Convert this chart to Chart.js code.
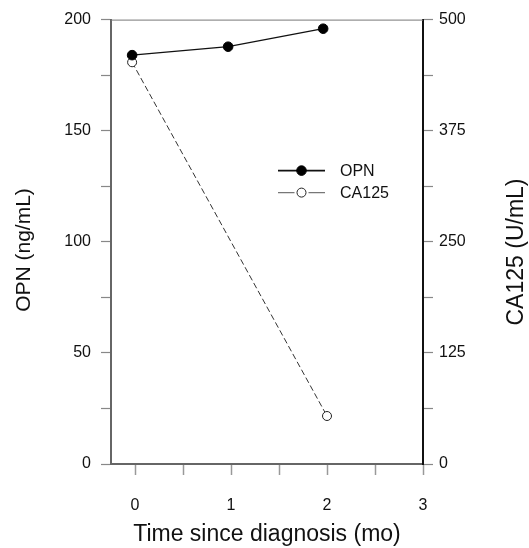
<!DOCTYPE html>
<html>
<head>
<meta charset="utf-8">
<script src="https://cdn.jsdelivr.net/npm/chart.js@4.4.0/dist/chart.umd.min.js"></script>
<style>
    html, body { margin: 0; padding: 0; background: #ffffff; }
    #wrap { width: 529px; height: 548px; }
</style>
</head>
<body>
<div id="wrap"><canvas id="opn_chart" width="529" height="548"></canvas></div>
<script>
// data
var opnMonths = [-0.03, 0.97, 1.96];
var opnValues = [184, 187.8, 195.9];
var ca125Months = [-0.03, 2.0];
var ca125Values = [452, 54];

// axis ticks (minor ticks unlabeled)
var xTicks = [0, 0.5, 1, 1.5, 2, 2.5, 3];
var xLabels = [0, 1, 2, 3];
var opnTicks = [0, 25, 50, 75, 100, 125, 150, 175, 200];
var opnLabels = [0, 50, 100, 150, 200];
var ca125Ticks = [0, 62.5, 125, 187.5, 250, 312.5, 375, 437.5, 500];
var ca125Labels = [0, 125, 250, 375, 500];

var FONT = "'Liberation Sans', Arial, Helvetica, sans-serif";

function toPoints(xs, ys) {
    return xs.map(function(x, i) { return { x: x, y: ys[i] }; });
}

function fixTicks(list) {
    return function(scale) {
        scale.ticks = list.map(function(v) { return { value: v }; });
    };
}

function labelOnly(list) {
    return function(value) {
        return list.indexOf(value) !== -1 ? String(value) : '';
    };
}

// top frame line, y-axis titles, legend
var extrasPlugin = {
    id: 'extras',
    afterDraw: function(chart) {
        var ctx = chart.ctx;
        var area = chart.chartArea;

        ctx.save();
        ctx.strokeStyle = '#777777';
        ctx.lineWidth = 1;
        ctx.beginPath();
        ctx.moveTo(area.left, area.top + 0.5);
        ctx.lineTo(area.right, area.top + 0.5);
        ctx.stroke();

        // axis titles, both read bottom-to-top
        ctx.fillStyle = '#111111';
        ctx.textAlign = 'center';
        ctx.textBaseline = 'alphabetic';
        ctx.save();
        ctx.font = '21px ' + FONT;
        ctx.translate(30, 250);
        ctx.rotate(-Math.PI / 2);
        ctx.fillText('OPN (ng/mL)', 0, 0);
        ctx.restore();

        ctx.save();
        ctx.font = '23px ' + FONT;
        ctx.translate(523, 252);
        ctx.rotate(-Math.PI / 2);
        ctx.fillText('CA125 (U/mL)', 0, 0);
        ctx.restore();

        // legend
        var lx0 = area.left + 167, lx1 = area.left + 214;
        var rows = [area.top + 151, area.top + 173];
        ctx.textBaseline = 'middle';
        chart.data.datasets.forEach(function(ds, i) {
            var y = rows[i];
            var cx = (lx0 + lx1) / 2;
            ctx.strokeStyle = i === 0 ? '#111111' : '#777777';
            ctx.lineWidth = i === 0 ? 1.8 : 1.2;
            ctx.beginPath();
            if (i === 0) {
                ctx.moveTo(lx0, y);
                ctx.lineTo(lx1, y);
            } else {
                ctx.moveTo(lx0, y);
                ctx.lineTo(cx - 7, y);
                ctx.moveTo(cx + 7, y);
                ctx.lineTo(lx1, y);
            }
            ctx.stroke();
            ctx.beginPath();
            ctx.arc(cx, y, ds.pointRadius, 0, Math.PI * 2);
            ctx.fillStyle = ds.pointBackgroundColor;
            ctx.fill();
            ctx.strokeStyle = ds.pointBorderColor;
            ctx.lineWidth = ds.pointBorderWidth;
            ctx.stroke();
            ctx.fillStyle = '#111111';
            ctx.textAlign = 'left';
            ctx.font = '16px ' + FONT;
            ctx.fillText(ds.label, area.left + 229, y + 1);
        });
        ctx.restore();
    }
};

var canvas = document.getElementById('opn_chart');

new Chart(canvas, {
    type: 'line',
    data: {
        datasets: [
            {
                label: 'OPN',
                data: toPoints(opnMonths, opnValues),
                yAxisID: 'y',
                borderColor: '#111111',
                borderWidth: 1.3,
                pointRadius: 4.8,
                pointBackgroundColor: '#000000',
                pointBorderColor: '#000000',
                pointBorderWidth: 1,
                tension: 0
            },
            {
                label: 'CA125',
                data: toPoints(ca125Months, ca125Values),
                yAxisID: 'y1',
                borderColor: '#333333',
                borderWidth: 1,
                borderDash: [6, 3],
                pointRadius: 4.5,
                pointBackgroundColor: '#ffffff',
                pointBorderColor: '#222222',
                pointBorderWidth: 1,
                tension: 0
            }
        ]
    },
    options: {
        responsive: false,
        animation: false,
        devicePixelRatio: 1,
        clip: false,
        layout: {
            padding: { top: 17, left: 0, right: 0, bottom: 0 }
        },
        plugins: {
            legend: { display: false },
            tooltip: { enabled: false }
        },
        scales: {
            x: {
                type: 'linear',
                min: -0.25,
                max: 3,
                afterBuildTicks: fixTicks(xTicks),
                afterFit: function(scale) { scale.height = 84; },
                ticks: {
                    callback: labelOnly(xLabels),
                    autoSkip: false,
                    maxRotation: 0,
                    padding: 21,
                    color: '#111111',
                    font: { size: 16, family: FONT }
                },
                grid: {
                    drawOnChartArea: false,
                    tickLength: 11,
                    tickColor: '#999999',
                    tickWidth: 1.5
                },
                border: { color: '#666666', width: 2 },
                title: {
                    display: true,
                    text: 'Time since diagnosis (mo)',
                    color: '#111111',
                    font: { size: 23, family: FONT },
                    padding: { top: 0, bottom: 0 }
                }
            },
            y: {
                position: 'left',
                min: 0,
                max: 200,
                afterBuildTicks: fixTicks(opnTicks),
                afterFit: function(scale) { scale.width = 111; },
                ticks: {
                    callback: labelOnly(opnLabels),
                    autoSkip: false,
                    padding: 10,
                    color: '#111111',
                    font: { size: 16, family: FONT }
                },
                grid: {
                    drawOnChartArea: false,
                    tickLength: 10,
                    tickColor: '#888888',
                    tickWidth: 1.2
                },
                border: { color: '#666666', width: 2 }
            },
            y1: {
                position: 'right',
                min: 0,
                max: 500,
                afterBuildTicks: fixTicks(ca125Ticks),
                afterFit: function(scale) { scale.width = 106; },
                ticks: {
                    callback: labelOnly(ca125Labels),
                    autoSkip: false,
                    padding: 6,
                    color: '#111111',
                    font: { size: 16, family: FONT }
                },
                grid: {
                    drawOnChartArea: false,
                    tickLength: 10,
                    tickColor: '#888888',
                    tickWidth: 1.2
                },
                border: { color: '#111111', width: 2 }
            }
        }
    },
    plugins: [extrasPlugin]
});
</script>
</body>
</html>
